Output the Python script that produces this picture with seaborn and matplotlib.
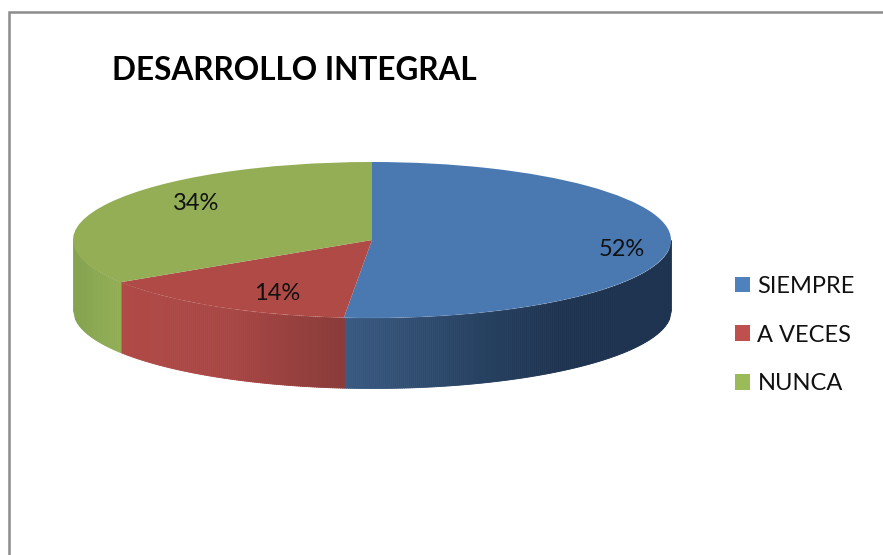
import numpy as np
import matplotlib
matplotlib.use("Agg")
import matplotlib.pyplot as plt
from matplotlib.patches import Patch
import seaborn as sns

title = "DESARROLLO INTEGRAL"
categories = ["SIEMPRE", "A VECES", "NUNCA"]
values = [51.5, 14.4, 34.1]

top_colors = ["#4A79B2", "#B04A47", "#93AE55"]
legend_colors = ["#4F81BD", "#C0504D", "#9BBB59"]
# wall shades listed left to right on the picture
wall_shades = [
    ["#3A5A82", "#2A4668", "#1E334F", "#1E334F"],
    ["#B04A47", "#A84644", "#8A3B39"],
    ["#84A350", "#93AE55"],
]

sns.set_theme(style="white")
plt.rcParams["font.family"] = ["Lato", "DejaVu Sans"]

W, H = 883, 555
CX, CY, RX, RY, DEPTH = 372, 240, 299, 78, 70


# reference pixel -> data units of the unit pie
def px(x, y):
    return (x - CX) / RX, (CY - y) / RY


fig = plt.figure(figsize=(W / 100, H / 100), dpi=100)
ax = fig.add_axes([0, 0, 1, 1])

wedges, _, pct = ax.pie(values, startangle=90, counterclock=False, colors=top_colors,
                        autopct="%.0f%%", pctdistance=0.75,
                        wedgeprops=dict(linewidth=0, zorder=3),
                        textprops=dict(fontsize=17, color="#111111", zorder=5))
ax.set_aspect("auto")
ax.set_xlim(px(0, 0)[0], px(W, 0)[0])
ax.set_ylim(px(0, H)[1], px(0, 0)[1])

# side wall, only the front half shows
edges = np.cumsum([0] + values) / sum(values) * 360
d = DEPTH / RY
for i, shades in enumerate(wall_shades):
    a0, a1 = max(edges[i], 90), min(edges[i + 1], 270)
    if a1 <= a0:
        continue
    x0, x1 = sorted([np.sin(np.radians(a0)), np.sin(np.radians(a1))])
    n = int((x1 - x0) * RX / 2) + 2
    xs = np.linspace(x0, x1, n)
    ys = -np.sqrt(np.clip(1 - xs ** 2, 0, 1))
    pal = sns.blend_palette(shades, n_colors=n - 1)
    for j in range(n - 1):
        ax.fill_between(xs[j:j + 2], ys[j:j + 2] - d, ys[j:j + 2], color=pal[j],
                        linewidth=0.6, zorder=2)

for t, pos in zip(pct, [(622, 249), (277, 293), (196, 204)]):
    t.set_position(px(*pos))
    t.set_ha("center")
    t.set_va("center")

ax.text(*px(112, 71), title, fontsize=22.7, fontweight="bold", color="black",
        ha="left", va="center")

handles = [Patch(facecolor=c, linewidth=0) for c in legend_colors]
ax.legend(handles, categories, loc="center left", bbox_to_anchor=(714 / W, 1 - 335 / H),
          bbox_transform=ax.transAxes, frameon=False, fontsize=17,
          handlelength=0.64, handleheight=0.64, handletextpad=0.3, labelspacing=1.18,
          labelcolor="#111111")

# chart frame, cropped on the right and bottom
ax.plot(*zip(px(8.5, H), px(8.5, 11.5), px(W, 11.5)), color="#8C8C8C", lw=1.8, zorder=6,
        solid_joinstyle="miter")

fig.savefig("out.png", dpi=100)
plt.close(fig)
